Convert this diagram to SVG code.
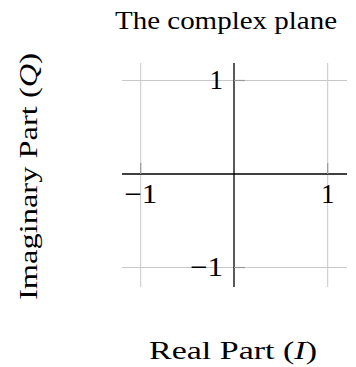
<svg xmlns="http://www.w3.org/2000/svg" width="356" height="367" viewBox="0 0 356 367">
<style>
.grid{stroke:#c8c8c8;stroke-width:1;fill:none}
.axis{stroke:#000;stroke-width:1.3;fill:none}
.tick{stroke:#9a9a9a;stroke-width:1.2;fill:none}
text{font-family:"Liberation Serif","DejaVu Serif",serif;fill:#000}
.lbl{font-size:26px}
.num{font-size:27px}
</style>
<rect width="356" height="367" fill="#fff"/>
<g id="grid">
<line class="grid" x1="140.7" y1="63" x2="140.7" y2="287"/>
<line class="grid" x1="327.7" y1="63" x2="327.7" y2="287"/>
<line class="grid" x1="122" y1="80.5" x2="347" y2="80.5"/>
<line class="grid" x1="122" y1="267.5" x2="347" y2="267.5"/>
</g>
<g id="axes">
<line class="axis" x1="122" y1="174" x2="347" y2="174"/>
<line class="axis" x1="234" y1="63" x2="234" y2="287"/>
<line class="tick" x1="140.7" y1="163" x2="140.7" y2="174"/>
<line class="tick" x1="327.7" y1="163" x2="327.7" y2="174"/>
<line class="tick" x1="234" y1="80.5" x2="245" y2="80.5"/>
<line class="tick" x1="234" y1="267.5" x2="245" y2="267.5"/>
</g>
<g id="ticklabels">
<text class="num" x="223" y="89" text-anchor="end">1</text>
<text class="num" x="223" y="276" text-anchor="end" textLength="33" lengthAdjust="spacingAndGlyphs">−1</text>
<text class="num" x="140.7" y="203" text-anchor="middle" textLength="33" lengthAdjust="spacingAndGlyphs">−1</text>
<text class="num" x="327.7" y="203" text-anchor="middle">1</text>
</g>
<g id="title">
<text class="lbl" x="226" y="28.5" text-anchor="middle" textLength="222" lengthAdjust="spacingAndGlyphs">The complex plane</text>
</g>
<g id="xlabel">
<text class="lbl" x="233" y="359" text-anchor="middle" textLength="168" lengthAdjust="spacingAndGlyphs">Real Part (<tspan font-style="italic">I</tspan>)</text>
</g>
<g id="ylabel">
<text class="lbl" transform="translate(37,176.5) rotate(-90)" x="0" y="0" text-anchor="middle" textLength="247" lengthAdjust="spacingAndGlyphs">Imaginary Part (<tspan font-style="italic">Q</tspan>)</text>
</g>
</svg>
